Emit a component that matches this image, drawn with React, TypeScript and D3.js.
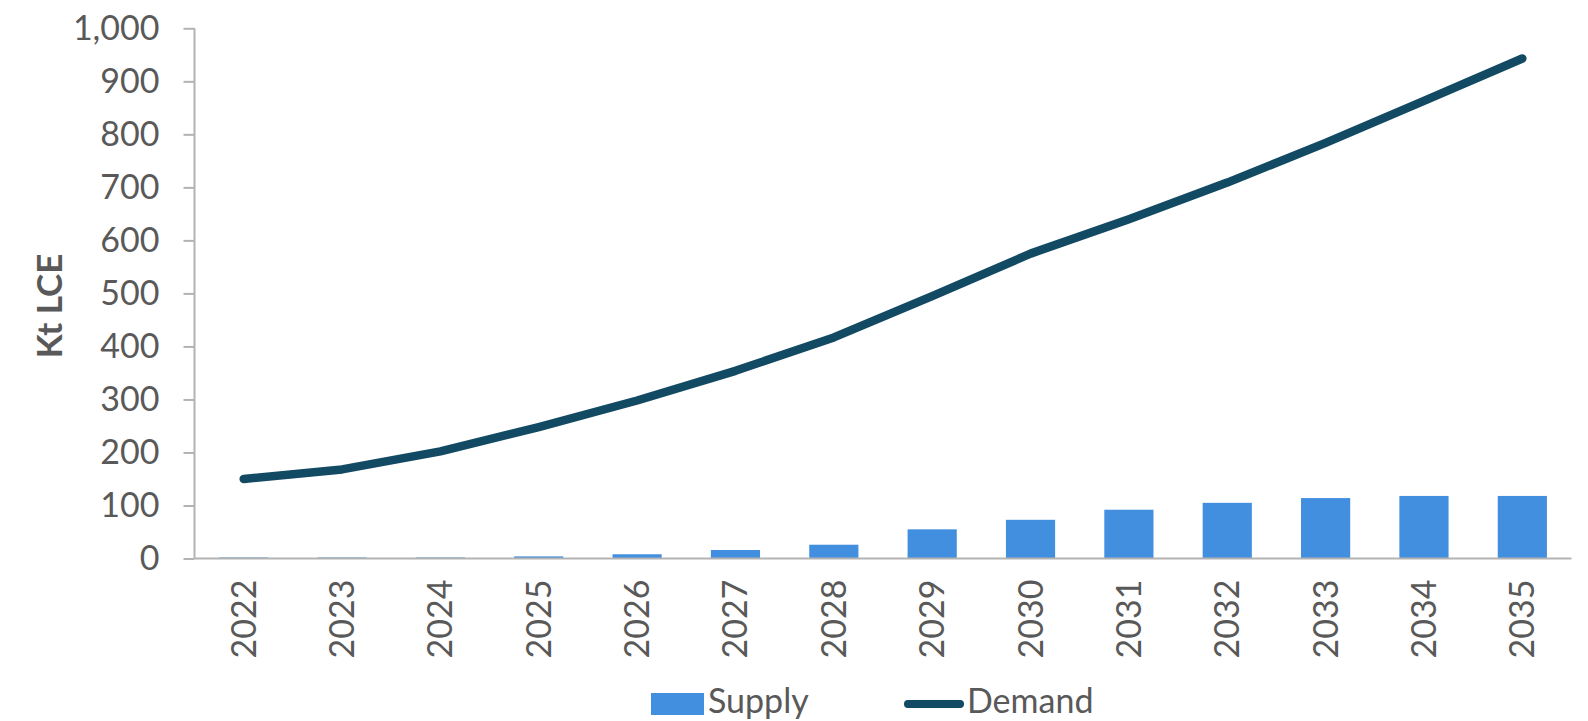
import React, { useEffect, useRef } from "react";
import * as d3 from "d3";

// chart data
const years = ["2022", "2023", "2024", "2025", "2026", "2027", "2028", "2029", "2030", "2031", "2032", "2033", "2034", "2035"];
const supply = [2, 2, 2, 4, 8, 16, 26, 55, 73, 92, 105, 114, 118, 118];
const demand = [150, 168, 202, 248, 298, 354, 417, 495, 575, 640, 709, 784, 863, 943];
const yTicks = [0, 100, 200, 300, 400, 500, 600, 700, 800, 900, 1000];

export default function App() {
    const svgRef = useRef<SVGSVGElement | null>(null);

    useEffect(() => {
        const svg = d3.select(svgRef.current);
        svg.selectAll("*").remove();

        const width = 1588;
        const height = 721;
        const margin = { top: 28.3, right: 16.5, bottom: 162.5, left: 194.5 };
        const font = "Lato, 'Open Sans', sans-serif";
        const textColor = "#595959";
        const axisColor = "#b3b3b3";
        const barColor = "#428fdf";
        const lineColor = "#124a63";

        svg.attr("width", width).attr("height", height);

        //category scale for bars, gap equal to bar width
        const x = d3.scaleBand<string>()
            .domain(years)
            .range([margin.left, width - margin.right])
            .paddingInner(0.5)
            .paddingOuter(0.25);

        //value scale
        const y = d3.scaleLinear()
            .domain([0, 1000])
            .range([height - margin.bottom, margin.top]);

        const cx = (yr: string) => (x(yr) ?? 0) + x.bandwidth() / 2;

        //bars for supply
        svg.append("g")
            .selectAll("rect")
            .data(years)
            .join("rect")
            .attr("x", (d) => x(d) ?? 0)
            .attr("y", (d, i) => y(supply[i]))
            .attr("width", x.bandwidth())
            .attr("height", (d, i) => y(0) - y(supply[i]))
            .attr("fill", barColor);

        //y axis
        const yAxis = svg.append("g")
            .attr("transform", `translate(${margin.left},0)`)
            .call(d3.axisLeft(y).tickValues(yTicks).tickSize(11).tickPadding(24).tickFormat(d3.format(",")));
        yAxis.select(".domain").attr("stroke", axisColor).attr("stroke-width", 2).attr("d", `M0,${y(1000)}V${y(0)}`);
        yAxis.selectAll(".tick line").attr("stroke", axisColor).attr("stroke-width", 2);
        yAxis.selectAll(".tick text")
            .attr("fill", textColor)
            .attr("font-family", font)
            .attr("font-size", 34);

        //x axis
        const xAxis = svg.append("g")
            .attr("transform", `translate(0,${y(0)})`)
            .call(d3.axisBottom(x).tickSize(0).tickPadding(0));
        xAxis.select(".domain").attr("stroke", axisColor).attr("stroke-width", 2)
            .attr("d", `M${margin.left},0H${width - margin.right}`);
        xAxis.selectAll(".tick text")
            .attr("fill", textColor)
            .attr("font-family", font)
            .attr("font-size", 34)
            .attr("text-anchor", "end")
            .attr("dy", null)
            .attr("y", null)
            .attr("transform", "translate(12,21) rotate(-90)");

        //demand line
        const line = d3.line<number>()
            .x((d, i) => cx(years[i]))
            .y((d) => y(d));
        svg.append("path")
            .datum(demand)
            .attr("d", line)
            .attr("fill", "none")
            .attr("stroke", lineColor)
            .attr("stroke-width", 8.5)
            .attr("stroke-linecap", "round")
            .attr("stroke-linejoin", "round");

        //axis title
        svg.append("text")
            .attr("transform", "translate(62,306) rotate(-90)")
            .attr("text-anchor", "middle")
            .attr("font-family", font)
            .attr("font-weight", "bold")
            .attr("font-size", 35)
            .attr("fill", textColor)
            .text("Kt LCE");

        //legend
        const legend = svg.append("g").attr("font-family", font).attr("font-size", 34).attr("fill", textColor);
        legend.append("rect")
            .attr("x", 651).attr("y", 693).attr("width", 53).attr("height", 22)
            .attr("fill", barColor);
        legend.append("text").attr("x", 708).attr("y", 713).text("Supply");
        legend.append("line")
            .attr("x1", 908).attr("x2", 960).attr("y1", 704).attr("y2", 704)
            .attr("stroke", lineColor).attr("stroke-width", 8).attr("stroke-linecap", "round");
        legend.append("text").attr("x", 967).attr("y", 713).text("Demand");
    }, []);

    return (
        <div>
            <svg ref={svgRef} style={{ position: "absolute", left: 0, top: 0, background: "#fff" }}></svg>
        </div>
    );
}
